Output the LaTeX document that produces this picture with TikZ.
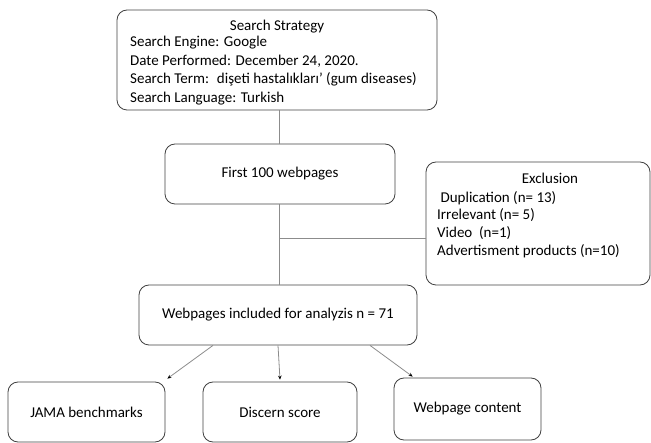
\documentclass[tikz,border=0pt]{standalone}
\usepackage{fontspec}
\setmainfont{Carlito}
\usetikzlibrary{calc,arrows.meta}

\tikzset{%
  flowbox/.style={
    draw=black!75,
    rounded corners=10pt,
    line width=0.8pt,
    inner sep=0pt,
    font=\fontsize{15}{18.5}\selectfont
  },
  bigtext/.style={font=\fontsize{15}{18.5}\selectfont},
  link/.style={draw=black!45, line width=0.8pt},
}

\begin{document}
\begin{tikzpicture}[x=1pt, y=-1pt, >={Stealth[length=4pt,width=3.5pt,color=black]}]
\useasboundingbox (0,0) rectangle (651,443);
%=========================================================================================================
% Boxes
%=========================================================================================================

%Search strategy box at the top
\node [flowbox, minimum width=320pt, minimum height=100pt] (strategy) at (277,60) {};
\node [bigtext, anchor=north] at (277,17) {Search Strategy};
\node [bigtext, anchor=north west, align=left, inner sep=0pt] at (130,36)
  {Search Engine: Google\\
   Date Performed: December 24, 2020.\\
   Search Term: \ dişeti hastalıkları’ (gum diseases)\\
   Search Language: Turkish};

%First pages box
\node [flowbox, minimum width=230pt, minimum height=60pt] (first) at (280,174) {First 100 webpages};

%Exclusion box
\node [flowbox, minimum width=224pt, minimum height=123pt] (exclusion) at (538,223.5) {};
\node [font=\fontsize{15}{17.75}\selectfont, anchor=north] at (550,170) {Exclusion};
\node [font=\fontsize{15}{17.75}\selectfont, anchor=north west, align=left, inner sep=0pt] at (437,191)
  {\ Duplication (n= 13)\\
   Irrelevant (n= 5)\\
   Video \ (n=1)\\
   Advertisment products (n=10)};

%Included box
\node [flowbox, minimum width=278pt, minimum height=60pt] (included) at (278,315) {Webpages included for analyzis n = 71};

%Bottom row of boxes
\foreach \n/\x/\y/\w/\h/\l in {jama/86.5/412/157/60/JAMA benchmarks, discern/280/412/154/60/Discern score, content/467.5/409/147/62/Webpage content}
  \node [flowbox, minimum width=\w pt, minimum height=\h pt] (\n) at (\x,\y) {\l};

%=========================================================================================================
% Connections
%=========================================================================================================
\coordinate (split) at (279,238);

\draw [link] (strategy.south -| split) -- (first.north -| split);
\draw [link] (first.south -| split) -- (included.north -| split);
\draw [link] (split) -- (split -| exclusion.west);

\draw [link, ->] ([xshift=-65pt]included.south) -- ([xshift=2pt, yshift=3pt]jama.north east);
\draw [link, ->] (included.south) -- ([yshift=2pt]discern.north);
\draw [link, ->] ([xshift=92pt]included.south) -- ([xshift=19pt, yshift=1pt]content.north west);

\end{tikzpicture}
\end{document}
